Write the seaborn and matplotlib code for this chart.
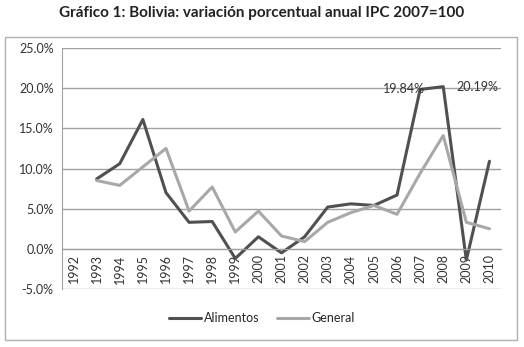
import numpy as np
import pandas as pd
import matplotlib.pyplot as plt
import seaborn as sns
from matplotlib.patches import Rectangle

years = list(range(1992, 2011))
alimentos = [np.nan, 8.7, 10.6, 16.1, 7.0, 3.3, 3.4, -1.2, 1.5, -0.5, 1.5,
             5.2, 5.6, 5.4, 6.7, 19.84, 20.19, -1.4, 10.9]
general = [np.nan, 8.5, 7.9, 10.2, 12.5, 4.7, 7.7, 2.1, 4.7, 1.6, 0.9,
           3.3, 4.5, 5.4, 4.3, 9.4, 14.1, 3.3, 2.5]
series_names = ['Alimentos', 'General']
colors = ['#505050', '#a8a8a8']
y_ticks = [-5, 0, 5, 10, 15, 20, 25]

sns.set_style('white')
plt.rcParams['font.family'] = ['Lato', 'DejaVu Sans']

df = pd.DataFrame({'year': years * 2,
                   'valor': alimentos + general,
                   'serie': [series_names[0]] * len(years) + [series_names[1]] * len(years)})

fig = plt.figure(figsize=(5.24, 3.47), dpi=100)
fig.patches.append(Rectangle((5 / 524, 1 - 340 / 347), 512 / 524, 303 / 347,
                             transform=fig.transFigure, fill=False,
                             edgecolor='#b0b0b0', linewidth=1))
ax = fig.add_axes([62 / 524, 1 - 289 / 347, 439 / 524, 241 / 347])

sns.lineplot(data=df, x='year', y='valor', hue='serie', palette=colors,
             linewidth=2.2, ax=ax, legend=False)

# eje x en y=0 (antes de formatear los ticks)
ax.spines['bottom'].set_position(('data', 0))
ax.spines['bottom'].set_color('#a0a0a0')
ax.spines['left'].set_color('#a0a0a0')
ax.spines[['top', 'right']].set_visible(False)

ax.set_xlim(1991.5, 2010.5)
ax.set_ylim(-5, 25)
ax.set_yticks(y_ticks)
ax.set_yticklabels([f'{v:.1f}%' for v in y_ticks], fontsize=9, color='#333333')
for v in y_ticks:
    ax.axhline(v, color='#a0a0a0', linewidth=1, zorder=0)
ax.set_xticks(years)
ax.set_xticklabels([str(y) for y in years], rotation=90, fontsize=9, color='#333333')
ax.tick_params(axis='x', length=0, pad=4)
ax.tick_params(axis='y', length=0, pad=6)
ax.set_xlabel(None)
ax.set_ylabel(None)

ax.text(2007.2, alimentos[15], f'{alimentos[15]:.2f}%', ha='right', va='center',
        fontsize=9, color='#333333')
ax.text(2008.55, alimentos[16], f'{alimentos[16]:.2f}%', ha='left', va='center',
        fontsize=9, color='#333333')

handles = [plt.Line2D([], [], color=c, linewidth=2.2) for c in colors]
fig.legend(handles, series_names, loc='center', bbox_to_anchor=(262 / 524, 1 - 318 / 347),
           ncol=2, frameon=False, fontsize=9, handlelength=2.6, handletextpad=0.2,
           columnspacing=1.4)

fig.text(0.5, 1 - 13 / 347, 'Gráfico 1: Bolivia: variación porcentual anual IPC 2007=100',
         ha='center', va='center', fontsize=11, fontweight='bold', color='#222222')

fig.savefig('out.png', dpi=100)
